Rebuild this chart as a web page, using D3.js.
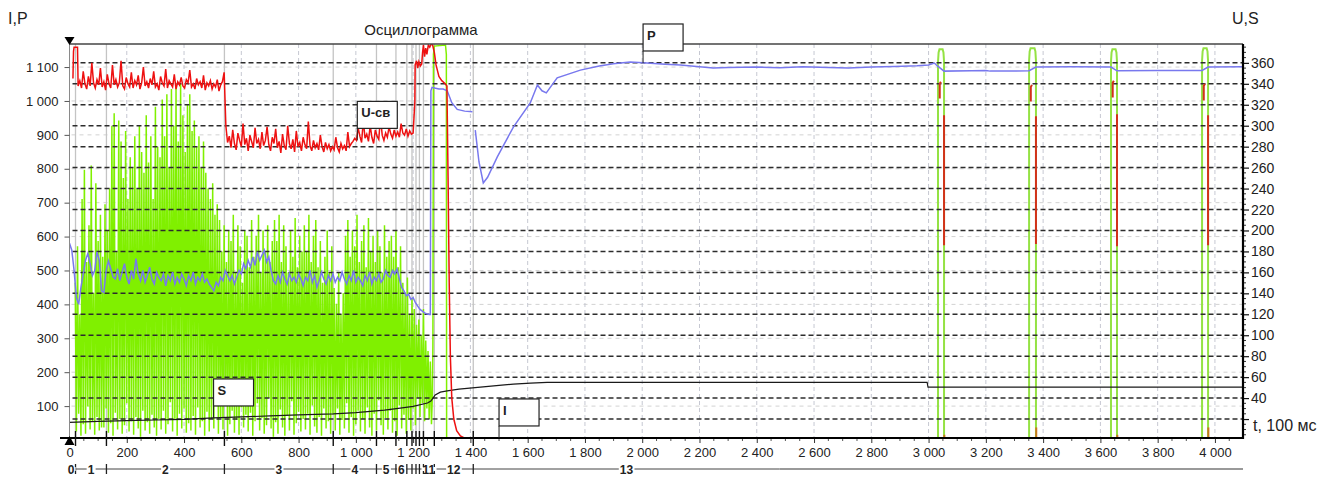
<!DOCTYPE html>
<html>
<head>
<meta charset="utf-8">
<script src="https://cdn.jsdelivr.net/npm/d3@7"></script>
<style>
  body { margin: 0; background: #fff; }
  svg { display: block; }
  text { font-family: "Liberation Sans", Arial, sans-serif; fill: #222; }
</style>
</head>
<body>
<svg id="chart" width="1341" height="486"></svg>
<script>
// ---- axis ranges and ticks ----
const timeDomain = [0, 4098];          // t, 100 ms
const leftDomain = [0, 1168];          // I, P
const rightDomain = [0, 378];          // U, S
const xTickValues = [0, 200, 400, 600, 800, 1000, 1200, 1400, 1600, 1800, 2000, 2200, 2400, 2600, 2800, 3000, 3200, 3400, 3600, 3800, 4000];
const leftTickValues = [100, 200, 300, 400, 500, 600, 700, 800, 900, 1000, 1100];
const rightTickValues = [20, 40, 60, 80, 100, 120, 140, 160, 180, 200, 220, 240, 260, 280, 300, 320, 340, 360];

// ---- process phases ----
const phaseBounds = [0, 21, 129, 541, 921, 1072, 1140, 1178, 1196, 1210, 1222, 1236, 1274, 1410, 2480];
const phaseLabels = ["0", "1", "2", "3", "4", "5", "6", "7", "8", "9", "10", "11", "12", "13"];

// ---- S: sampled from t = sStart every sStep ----
const sStart = 20, sStep = 4;
const sValues = [
  150, 8, 185, 25, 120, 4, 230, 15, 258, 6, 170, 32, 205, 10, 262, 18, 140, 5, 245, 22, 190, 9, 215, 12, 175,
  12, 225, 30, 200, 7, 240, 16, 300, 4, 312, 26, 180, 10, 305, 20, 285, 6, 250, 14, 295, 35, 230, 8, 270, 18,
  260, 5, 290, 22, 240, 11, 300, 3, 275, 28, 255, 9, 310, 17, 265, 6, 290, 24, 230, 12, 318, 4, 280, 20, 270,
  10, 325, 28, 290, 6, 330, 15, 260, 36, 335, 8, 300, 19, 338, 4, 285, 25, 340, 11, 310, 30, 275, 7, 320, 16,
  330, 9, 295, 23, 305, 5, 280, 31, 290, 12, 260, 18, 285, 4, 255, 27, 240, 8, 230, 20, 245, 11, 215, 33, 225,
  6, 210, 22, 180, 10, 205, 38, 170, 4, 200, 15, 190, 28, 215, 7, 160, 19, 205, 5, 185, 31, 150, 12, 200, 24,
  195, 8, 165, 26, 210, 4, 175, 18, 195, 35, 215, 9, 160, 21, 200, 6, 180, 14, 205, 40, 170, 11, 190, 3, 210,
  17, 190, 6, 215, 29, 170, 12, 205, 4, 185, 23, 160, 9, 200, 37, 175, 5, 212, 16, 165, 27, 195, 8, 180, 20,
  205, 10, 180, 25, 215, 5, 170, 33, 195, 13, 210, 7, 165, 22, 190, 4, 150, 30, 175, 11, 200, 18, 160, 6, 185,
  24, 145, 9, 130, 30, 160, 5, 120, 19, 140, 11, 195, 35, 210, 7, 175, 22, 200, 4, 185, 15, 215, 28, 170, 8,
  190, 20, 205, 6, 165, 31, 212, 12, 180, 4, 195, 25, 170, 9, 200, 38, 185, 14, 160, 5, 205, 21, 175, 10, 190,
  28, 195, 7, 175, 18, 200, 4, 165, 33, 185, 11, 150, 24, 140, 6, 155, 19, 120, 9, 135, 30, 125, 14, 110, 40,
  115, 22, 100, 35, 125, 18, 95, 30, 85, 20, 75, 15
];
// S burst at the end of welding
const sBurst = [[1267, 40], [1269, 90], [1271, 368], [1274, 376], [1313, 377], [1316, 368], [1317, 0]];
// S pulses later in the record
const pulseStart = [3033, 3351, 3637, 3955];
const pulseEnd = [3054, 3375, 3658, 3976];
const pulseTop = [373, 374, 373, 374];

// ---- U-св ----
const uHead = [[12, 345], [14, 371], [16, 375], [28, 375], [30, 340]];
const uStart1 = 30, uStep = 6;
const uValues1 = [
  338, 343, 336, 352, 340, 335, 347, 338, 360, 341, 336, 344, 339, 355, 337, 342, 334, 349, 340, 336,
  358, 339, 344, 337, 341, 362, 338, 335, 346, 340, 337, 351, 336, 343, 339, 348, 335, 341, 356, 338,
  342, 336, 345, 339, 352, 337, 340, 334, 347, 341, 338, 354, 336, 343, 340, 337, 349, 335, 342, 339,
  346, 338, 336, 344, 341, 353, 337, 340, 335, 345, 339, 342, 336, 348, 334, 341, 338, 343, 335, 340,
  337, 344, 333, 339, 342, 351
];
const uStart2 = 546;
const uValues2 = [
  300, 284, 290, 279, 296, 283, 277, 293, 286, 280, 302, 282, 288, 276, 291, 285, 279, 298, 283, 287,
  278, 294, 281, 286, 299, 282,
  276, 289, 283, 297, 279, 285, 274, 292, 281, 277, 300, 283, 278, 287, 275, 295, 280, 284, 276, 289,
  282, 278, 304, 281, 276, 286, 279, 283, 277, 291, 280, 275, 284,
  278, 282, 276, 280, 277, 289, 279, 275, 283, 278, 281, 276, 294, 280, 283, 285, 288,
  286, 298, 290, 284, 305, 288, 292, 285, 300, 289, 283, 296, 290, 287, 308, 291, 286, 293, 289, 299,
  292, 288, 296, 290, 294, 289, 302, 293, 291, 297, 290, 295, 292
];
const uTail = [
  [1200, 293], [1206, 323], [1207, 358], [1212, 362], [1216, 355], [1220, 361], [1225, 357], [1230, 359],
  [1233, 370], [1236, 377], [1240, 366], [1244, 374], [1248, 368], [1253, 377], [1258, 375], [1263, 378],
  [1268, 377], [1274, 370], [1280, 358], [1290, 347], [1300, 343], [1312, 340], [1318, 338], [1322, 250],
  [1326, 150], [1330, 80], [1335, 40], [1342, 20], [1352, 9], [1365, 4], [1385, 1], [1410, 0]
];
// U-св during the later pulses
const uPulseUpperTop = [342, 339, 343, 340];
const uPulseUpperLow = [326, 323, 327, 324];
const uPulseLowerTop = [310, 309, 311, 310];
const uPulseLowerEnd = [186, 187, 185, 186];
const uPulseStub = [5, 12, 5, 12];

// ---- P ----
const pStep = 8;
const pValues = [
  580, 560, 500, 420, 400, 450, 490, 530, 550, 520,
  485, 500, 555, 530, 440, 435, 500, 528, 505, 481,
  475, 505, 470, 495, 520, 480, 460, 500, 475, 535,
  490, 470, 500, 465, 485, 510, 475, 460, 495, 480,
  470, 490, 455, 485, 470, 495, 460, 480, 465, 490,
  475, 455, 485, 470, 495, 460, 480, 470, 490, 465,
  475, 460, 450, 440, 465, 455, 480, 470, 500, 485,
  470, 485, 460, 480, 500, 490, 520, 505, 530, 510,
  540, 515, 555, 530, 545, 560, 525, 540, 500, 470,
  460, 485, 465, 495, 475, 460, 490, 470, 480, 465,
  490, 475, 455, 480, 470, 500, 465, 485, 450, 470,
  495, 475, 460, 485, 470, 490, 465, 480, 470, 495,
  475, 460, 485, 470, 500, 465, 480, 470, 455, 485,
  470, 495, 460, 480, 470, 490, 465, 475, 500, 485,
  480, 500, 490, 505, 475, 450, 440, 425, 430, 415,
  420, 405, 395, 385, 380, 375, 372, 370
];
const pTail = [
  [1260, 370], [1262, 1030], [1266, 1040], [1275, 1038], [1290, 1035], [1305, 1035], [1319, 1030],
  [1335, 995], [1354, 975], [1380, 970], [1407, 968], [1412, null],
  [1417, 914], [1430, 820], [1445, 758], [1460, 775], [1494, 835], [1550, 923], [1609, 994],
  [1634, 1047], [1650, 1030], [1665, 1024], [1703, 1068], [1784, 1091], [1850, 1103], [1899, 1110],
  [1958, 1115], [2017, 1112], [2080, 1108], [2133, 1106], [2200, 1101], [2248, 1097], [2300, 1099],
  [2400, 1100], [2480, 1098], [2560, 1101], [2650, 1099], [2720, 1097], [2800, 1100], [2880, 1102],
  [2960, 1104], [3000, 1106], [3020, 1112], [3030, 1104], [3054, 1088], [3150, 1089], [3200, 1090],
  [3215, 1088], [3351, 1089], [3375, 1100], [3500, 1101], [3637, 1100], [3658, 1089], [3800, 1090],
  [3955, 1090], [3976, 1100], [4098, 1101]
];

// ---- I ----
const iPoints = [
  [0, 52], [100, 55], [200, 57], [300, 59], [400, 61], [503, 65], [600, 68], [700, 71], [800, 74],
  [921, 77], [1000, 81], [1100, 88], [1155, 94], [1200, 99], [1250, 109], [1262, 115], [1277, 133],
  [1295, 141], [1319, 145], [1360, 150], [1435, 156], [1500, 161], [1550, 165], [1610, 168],
  [1668, 170], [2995, 170], [2998, 156], [4098, 156]
];

// ---- labels on the traces ----
const traceLabels = [
  { text: "U-св", t: 1005, value: 286, scale: "right" },
  { text: "P", t: 2003, value: 1112, scale: "left" },
  { text: "S", t: 503, value: 65, scale: "left" },
  { text: "I", t: 1500, value: 6, scale: "left" }
];

// ================= drawing =================
const svg = d3.select("#chart");
const plot = { left: 69.5, right: 1243, top: 44, bottom: 440 };

const x = d3.scaleLinear().domain(timeDomain).range([plot.left, plot.right]);
const yL = d3.scaleLinear().domain(leftDomain).range([plot.bottom, plot.top]);
const yR = d3.scaleLinear().domain(rightDomain).range([plot.bottom, plot.top]);
const axisY = 438;

const fmt = d3.formatLocale({ decimal: ".", thousands: "\u00a0", grouping: [3], currency: ["", ""] }).format(",d");

svg.append("defs").append("clipPath").attr("id", "plotClip")
  .append("rect").attr("x", plot.left).attr("y", plot.top)
  .attr("width", plot.right - plot.left).attr("height", axisY - plot.top);

const grid = svg.append("g");

// light horizontal grid for the left scale
grid.selectAll("line.hl").data(leftTickValues).join("line")
  .attr("x1", plot.left + 2).attr("x2", plot.right)
  .attr("y1", d => yL(d)).attr("y2", d => yL(d))
  .attr("stroke", "#d2d2d2").attr("stroke-dasharray", "4,4");

// vertical grid
grid.selectAll("line.vg").data(xTickValues.filter(d => d > 0)).join("line")
  .attr("x1", d => x(d)).attr("x2", d => x(d))
  .attr("y1", plot.top).attr("y2", axisY)
  .attr("stroke", "#c6c8d2").attr("stroke-dasharray", "4,3");

// phase boundaries
const innerBounds = phaseBounds.slice(1, -1);
grid.selectAll("line.pb").data(innerBounds).join("line")
  .attr("x1", d => x(d)).attr("x2", d => x(d))
  .attr("y1", plot.top).attr("y2", axisY)
  .attr("stroke", "#c4c4c4").attr("stroke-width", 1.3);

const lineL = d3.line().defined(d => d[1] != null).x(d => x(d[0])).y(d => yL(d[1]));
const lineR = d3.line().defined(d => d[1] != null).x(d => x(d[0])).y(d => yR(d[1]));

const series = svg.append("g").attr("clip-path", "url(#plotClip)");

// S
const sPoints = sValues.map((v, i) => [sStart + i * sStep, v]).concat(sBurst);
series.append("path").attr("d", lineR(sPoints))
  .attr("fill", "none").attr("stroke", "#80f000").attr("stroke-width", 1.5);
pulseStart.forEach((t0, i) => {
  const t1 = pulseEnd[i], top = pulseTop[i];
  const pts = [[t0, 0], [t0, top - 12], [t0 + 2, top - 3], [t0 + 5, top], [t1 - 5, top], [t1 - 2, top - 3], [t1, top - 12], [t1, 0]];
  series.append("path").attr("d", lineR(pts))
    .attr("fill", "none").attr("stroke", "#94e244").attr("stroke-width", 2);
});

// black dashed grid for the right scale (drawn over S)
series.selectAll("line.hr").data(rightTickValues).join("line")
  .attr("x1", plot.left + 3).attr("x2", plot.right)
  .attr("y1", d => yR(d)).attr("y2", d => yR(d))
  .attr("stroke", "#2c2c2c").attr("stroke-width", 1.5).attr("stroke-dasharray", "5,3");

// P
const pPoints = pValues.map((v, i) => [i * pStep, v]).concat(pTail);
series.append("path").attr("d", lineL(pPoints))
  .attr("fill", "none").attr("stroke", "#7878ee").attr("stroke-width", 1.5);

// I
series.append("path").attr("d", lineL(iPoints))
  .attr("fill", "none").attr("stroke", "#1a1a1a").attr("stroke-width", 1.2);

// U-св
const uPoints = uHead
  .concat(uValues1.map((v, i) => [uStart1 + i * uStep, v]))
  .concat(uValues2.map((v, i) => [uStart2 + i * uStep, v]))
  .concat(uTail);
series.append("path").attr("d", lineR(uPoints))
  .attr("fill", "none").attr("stroke", "#ee1111").attr("stroke-width", 1.5);
pulseStart.forEach((t0, i) => {
  const t1 = pulseEnd[i];
  const upper = [[t0 + 6, uPulseUpperLow[i]], [t0 + 6, uPulseUpperTop[i] - 2], [t0 + 10, uPulseUpperTop[i]]];
  const lower = [[t1, uPulseLowerTop[i]], [t1, uPulseLowerEnd[i]]];
  const stub = [[t1 + 1, uPulseStub[i]], [t1 + 1, 0]];
  [upper, lower].forEach(seg => series.append("path").attr("d", lineR(seg))
    .attr("fill", "none").attr("stroke", "#d2321a").attr("stroke-width", 2));
  series.append("path").attr("d", lineR(stub))
    .attr("fill", "none").attr("stroke", "#c8781e").attr("stroke-width", 2);
});

// ---- frame ----
svg.append("line").attr("x1", plot.left).attr("x2", plot.right)
  .attr("y1", plot.top).attr("y2", plot.top).attr("stroke", "#444").attr("stroke-width", 1.5);
svg.append("line").attr("x1", plot.left).attr("x2", plot.left)
  .attr("y1", plot.top).attr("y2", axisY).attr("stroke", "#8a8a8a").attr("stroke-width", 1);

// left axis
const leftAxis = svg.append("g").attr("transform", `translate(${plot.left},0)`)
  .call(d3.axisLeft(yL).tickValues(leftTickValues).tickFormat(fmt).tickSize(5).tickPadding(6));
leftAxis.select(".domain").remove();
leftAxis.selectAll("line").attr("stroke", "#555");
leftAxis.selectAll("text").attr("font-size", 13).attr("fill", "#333")
  .attr("font-family", "Liberation Sans, Arial, sans-serif");

// right axis
const rightAxis = svg.append("g").attr("transform", `translate(${plot.right},0)`)
  .call(d3.axisRight(yR).tickValues(rightTickValues).tickFormat(d => d === 20 ? "" : d).tickSize(6).tickPadding(2));
rightAxis.select(".domain").remove();
rightAxis.selectAll("line").attr("stroke", "#111").attr("stroke-width", 1.2);
rightAxis.selectAll("text").attr("font-size", 14).attr("fill", "#333")
  .attr("font-family", "Liberation Sans, Arial, sans-serif");
const minorR = d3.range(rightDomain[0], 376, 5).filter(v => v % 20 !== 0);
svg.append("g").selectAll("line").data(minorR).join("line")
  .attr("x1", plot.right).attr("x2", plot.right + 3)
  .attr("y1", d => yR(d)).attr("y2", d => yR(d)).attr("stroke", "#333");
svg.append("line").attr("x1", plot.right).attr("x2", plot.right)
  .attr("y1", plot.top).attr("y2", axisY + 1).attr("stroke", "#000").attr("stroke-width", 2.2);

// bottom axis
const bottomAxis = svg.append("g").attr("transform", `translate(0,${axisY})`)
  .call(d3.axisBottom(x).tickValues(xTickValues).tickFormat(fmt).tickSize(5).tickPadding(5));
bottomAxis.select(".domain").remove();
bottomAxis.selectAll("line").attr("stroke", "#333");
bottomAxis.selectAll("text").attr("font-size", 13).attr("fill", "#333")
  .attr("font-family", "Liberation Sans, Arial, sans-serif");
const minorX = d3.range(50, 4098, 50).filter(v => v % 200 !== 0);
svg.append("g").selectAll("line").data(minorX).join("line")
  .attr("x1", d => x(d)).attr("x2", d => x(d))
  .attr("y1", axisY).attr("y2", axisY + 3).attr("stroke", "#555");
svg.append("line").attr("x1", 60).attr("x2", plot.right)
  .attr("y1", axisY).attr("y2", axisY).attr("stroke", "#000").attr("stroke-width", 2.2);
// phase boundary marks across the time axis
svg.append("g").selectAll("line").data(innerBounds).join("line")
  .attr("x1", d => x(d)).attr("x2", d => x(d))
  .attr("y1", axisY - 7).attr("y2", axisY + 8).attr("stroke", "#111").attr("stroke-width", 1.4);

// start markers
svg.append("path").attr("d", `M${plot.left - 5},37 L${plot.left + 5},37 L${plot.left},45 Z`).attr("fill", "#000");
svg.append("path").attr("d", `M${plot.left - 5},445 L${plot.left + 5},445 L${plot.left},436 Z`).attr("fill", "#000");

// ---- phase scale ----
const phaseY = 469;
const phaseG = svg.append("g");
phaseG.append("line").attr("x1", plot.left).attr("x2", x(phaseBounds[phaseBounds.length - 1]))
  .attr("y1", phaseY).attr("y2", phaseY).attr("stroke", "#444");
phaseG.append("line").attr("x1", x(phaseBounds[phaseBounds.length - 1])).attr("x2", plot.right)
  .attr("y1", phaseY).attr("y2", phaseY).attr("stroke", "#777").attr("stroke-width", 1.5);
phaseG.selectAll("line.tk").data(innerBounds).join("line")
  .attr("x1", d => x(d)).attr("x2", d => x(d))
  .attr("y1", phaseY - 5).attr("y2", phaseY + 5).attr("stroke", "#222").attr("stroke-width", 1.3);
phaseLabels.forEach((lab, i) => {
  const a = x(phaseBounds[i]), b = x(phaseBounds[i + 1]);
  if (b - a < 5.5) return;
  const cx = i === 0 ? plot.left + 1.5 : (a + b) / 2;
  const t = phaseG.append("text").attr("x", cx).attr("y", phaseY + 4.5)
    .attr("text-anchor", "middle").attr("font-size", 12).attr("font-weight", "bold").text(lab);
  const bb = t.node().getBBox();
  phaseG.insert("rect", "text").attr("x", bb.x - 1).attr("y", phaseY - 2)
    .attr("width", bb.width + 2).attr("height", 4).attr("fill", "#fff");
});

// ---- trace labels ----
traceLabels.forEach(lb => {
  const ax = x(lb.t);
  const ay = lb.scale === "left" ? yL(lb.value) : yR(lb.value);
  const boxBottom = ay - 12, boxTop = boxBottom - 27;
  const w = 40;
  svg.append("line").attr("x1", ax).attr("x2", ax).attr("y1", boxBottom).attr("y2", ay)
    .attr("stroke", "#222");
  svg.append("rect").attr("x", ax).attr("y", boxTop).attr("width", w).attr("height", 27)
    .attr("fill", "#fff").attr("stroke", "#222").attr("stroke-width", 1.2);
  svg.append("text").attr("x", ax + 4).attr("y", boxTop + 16)
    .attr("font-size", 13).attr("font-weight", "bold").text(lb.text);
});

// ---- titles ----
svg.append("text").attr("x", 421).attr("y", 35).attr("text-anchor", "middle")
  .attr("font-size", 15).text("Осциллограмма");
svg.append("text").attr("x", 8).attr("y", 24).attr("font-size", 16).text("I,P");
svg.append("text").attr("x", 1232).attr("y", 24).attr("font-size", 16).text("U,S");
svg.append("text").attr("x", 1253).attr("y", 431).attr("font-size", 16).text("t, 100 мс");
</script>
</body>
</html>
